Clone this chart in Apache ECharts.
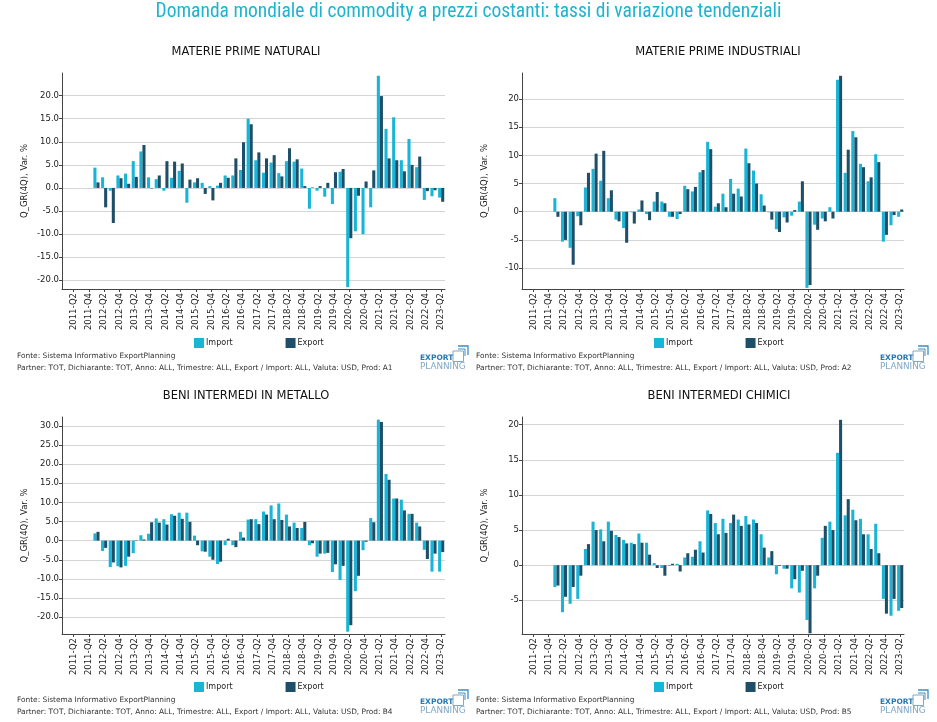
<!DOCTYPE html>
<html>
<head>
<meta charset="utf-8">
<script src="https://cdn.jsdelivr.net/npm/echarts@6/dist/echarts.min.js"></script>
<style>
html,body{margin:0;padding:0;background:#fff;}
#chart{width:937px;height:722px;}
</style>
</head>
<body>
<div id="chart"></div>
<script>
const categories = ['2011-Q1','2011-Q2','2011-Q3','2011-Q4','2012-Q1','2012-Q2','2012-Q3','2012-Q4',
'2013-Q1','2013-Q2','2013-Q3','2013-Q4','2014-Q1','2014-Q2','2014-Q3','2014-Q4',
'2015-Q1','2015-Q2','2015-Q3','2015-Q4','2016-Q1','2016-Q2','2016-Q3','2016-Q4',
'2017-Q1','2017-Q2','2017-Q3','2017-Q4','2018-Q1','2018-Q2','2018-Q3','2018-Q4',
'2019-Q1','2019-Q2','2019-Q3','2019-Q4','2020-Q1','2020-Q2','2020-Q3','2020-Q4',
'2021-Q1','2021-Q2','2021-Q3','2021-Q4','2022-Q1','2022-Q2','2022-Q3','2022-Q4',
'2023-Q1','2023-Q2'];

const seriesNames = ['Import','Export'];
const panelTitles = ['MATERIE PRIME NATURALI','MATERIE PRIME INDUSTRIALI','BENI INTERMEDI IN METALLO','BENI INTERMEDI CHIMICI'];
const prodCodes = ['A1','A2','B4','B5'];

const naturaliImport = [null,null,null,null,
 4.4,2.3,-0.6,2.7,3.1,5.8,7.9,2.3,1.9,-0.6,2.2,3.7,-3.2,1.2,1.1,0.4,0.5,2.7,2.7,3.9,
 15.0,6.0,3.3,5.5,3.2,5.8,5.7,4.2,-4.5,-0.6,-1.9,-3.5,3.5,-21.5,-9.4,-10.0,-4.2,24.3,
 12.8,15.3,6.0,10.6,4.5,-2.6,-1.8,-2.1];
const naturaliExport = [null,null,null,null,
 1.2,-4.2,-7.6,2.1,0.9,2.4,9.3,-0.1,2.7,5.8,5.7,5.3,1.8,2.1,-1.3,-2.7,1.1,2.2,6.4,9.9,
 13.8,7.7,6.4,7.1,2.5,8.6,6.2,0.4,0.1,0.4,1.1,3.4,4.1,-10.9,-1.7,1.4,3.8,19.9,
 6.4,6.0,3.6,5.0,6.8,-0.7,-0.5,-3.0];

const industrialiImport = [null,null,null,null,
 2.4,-5.3,-6.4,-0.8,4.3,7.6,5.5,2.4,-1.4,-2.9,-0.1,0.4,-0.4,1.8,1.8,-0.9,-1.3,4.6,3.6,7.0,
 12.4,0.9,3.2,5.8,4.1,11.2,7.3,3.1,-0.1,-3.1,-1.0,-0.7,1.8,-13.5,-2.3,-1.2,0.8,23.4,
 6.9,14.3,8.5,5.4,10.2,-5.3,-2.4,-0.9];
const industrialiExport = [null,null,null,null,
 -0.9,-5.0,-9.4,-2.4,6.9,10.3,10.8,3.8,-1.7,-5.5,-2.1,2.0,-1.5,3.5,1.5,-0.9,-0.4,4.0,4.4,7.4,
 11.1,1.5,0.8,3.2,2.7,8.6,5.0,1.1,-1.4,-3.6,-1.9,0.3,5.4,-13.0,-3.2,-1.7,-1.2,24.1,
 11.0,13.2,7.9,6.1,8.8,-4.1,-0.6,0.4];

const metalloImport = [null,null,null,null,
 1.9,-2.7,-6.9,-6.7,-6.6,-3.3,1.4,1.8,5.8,5.6,6.9,7.3,7.3,1.3,-2.8,-4.2,-6.1,-1.2,-1.2,2.3,
 5.5,5.6,7.6,9.2,9.7,6.8,4.7,3.3,-1.2,-4.2,-3.4,-8.2,-10.3,-23.8,-13.2,-2.5,5.9,31.6,
 17.4,11.0,10.7,7.0,4.7,-2.4,-8.1,-8.1];
const metalloExport = [null,null,null,null,
 2.3,-1.9,-5.7,-7.0,-4.2,-0.1,0.3,4.8,4.7,4.2,6.5,5.7,4.9,-1.2,-2.9,-5.0,-5.5,0.5,-1.7,0.8,
 5.6,4.3,6.8,5.6,5.4,3.7,3.3,4.9,-0.7,-3.4,-3.2,-6.2,-6.6,-22.1,-9.2,-0.3,4.8,31.0,
 15.9,11.0,7.9,7.0,3.7,-4.8,-3.4,-3.0];

const chimiciImport = [null,null,null,null,
 -3.1,-6.7,-5.5,-4.8,2.3,6.2,5.1,6.2,4.3,3.6,3.2,4.5,3.2,0.3,-0.4,-0.1,0.2,1.1,1.2,3.4,
 7.8,6.0,6.6,6.0,6.5,7.0,6.5,4.4,1.1,-1.3,-0.5,-3.3,-3.9,-7.8,-3.3,3.9,6.2,16.0,
 7.1,7.9,6.6,4.4,5.9,-4.8,-7.2,-6.5];
const chimiciExport = [null,null,null,null,
 -2.9,-4.5,-3.1,-1.5,3.0,5.0,3.4,4.9,4.0,3.1,3.0,3.2,1.5,-0.4,-1.5,0.2,-0.9,1.7,2.2,1.8,
 7.3,4.4,4.6,7.2,5.6,5.8,6.0,2.5,2.0,-0.1,-0.5,-2.0,-0.8,-9.7,-1.5,5.6,5.0,20.7,
 9.4,6.4,4.4,2.3,1.7,-6.9,-4.8,-6.1];

const panelData = [
  [naturaliImport, naturaliExport],
  [industrialiImport, industrialiExport],
  [metalloImport, metalloExport],
  [chimiciImport, chimiciExport]
];

// layout / style (not data)
const COL_IMP = '#19b5d6', COL_EXP = '#1f4f68';
const FONT = "'DejaVu Sans', sans-serif";
const grids = [
  {left:62, top:73, width:383, height:216},
  {left:522, top:73, width:382, height:216},
  {left:62, top:417, width:383, height:217},
  {left:522, top:417, width:382, height:217}
];
const yRanges = [[-21.9,24.9],[-13.7,24.6],[-24.4,32.3],[-9.8,21.1]];
const yDecimals = [1,0,1,0];
const offsets = [[0,0],[460,0],[0,344],[460,344]];

const option = {
  animation:false,
  backgroundColor:'#fff',
  grid: grids.map(g => Object.assign({containLabel:false}, g)),
  xAxis: grids.map((g,i) => ({
    type:'category', gridIndex:i, data:categories,
    boundaryGap:true,
    axisLine:{onZero:false, lineStyle:{color:'#444', width:1}},
    axisTick:{show:true, length:3, alignWithLabel:true, interval:(idx)=>idx%2===1, lineStyle:{color:'#444'}},
    axisLabel:{interval:(idx)=>idx%2===1, rotate:90, fontSize:8.5, fontFamily:FONT, color:'#222', margin:4},
    splitLine:{show:false}
  })),
  yAxis: grids.map((g,i) => ({
    type:'value', gridIndex:i,
    min:yRanges[i][0], max:yRanges[i][1],
    minInterval:5, maxInterval:5,
    name:'Q_GR(4Q), Var. %', nameLocation:'middle', nameGap:33,
    nameTextStyle:{fontSize:8.5, fontFamily:FONT, color:'#222'},
    axisLine:{show:true, lineStyle:{color:'#444', width:1}},
    axisTick:{show:true, length:3, lineStyle:{color:'#444'}},
    axisLabel:{fontSize:8.5, fontFamily:FONT, color:'#222', margin:3, showMinLabel:false, showMaxLabel:false,
      formatter:(v)=> (Math.abs(v % 5) < 1e-9 ? v.toFixed(yDecimals[i]) : '')},
    splitLine:{show:true, showMinLine:false, showMaxLine:false, lineStyle:{color:'#d4d4d4', width:1}}
  })),
  legend: offsets.map((o,i) => ({
    data:seriesNames, left:189+o[0], top:333+o[1], orient:'horizontal',
    itemWidth:10, itemHeight:10, itemGap:53, icon:'rect',
    textStyle:{fontSize:8, fontFamily:FONT, color:'#222', padding:[0,0,0,-3]}
  })),
  series: []
};

panelData.forEach((pair,i) => {
  pair.forEach((arr,j) => {
    option.series.push({
      name: seriesNames[j], type:'bar', xAxisIndex:i, yAxisIndex:i,
      data: arr, barGap:'0%', barCategoryGap:'20%',
      itemStyle:{color: j===0 ? COL_IMP : COL_EXP},
      emphasis:{disabled:true}
    });
  });
});

const graphics = [];
graphics.push({type:'text', left:'center', top:2, style:{
  text:'Domanda mondiale di commodity a prezzi costanti: tassi di variazione tendenziali',
  font:"normal 19.5px 'Liberation Sans Narrow','Roboto Condensed','Roboto',sans-serif", fill:'#1db3d1'}});
const titleCenters = [[246,52],[718,52],[246,396],[719,396]];
titleCenters.forEach((c,i) => {
  graphics.push({type:'text', x:c[0], y:c[1], style:{text:panelTitles[i], font:"11.5px 'DejaVu Sans'", fill:'#111', align:'center', verticalAlign:'middle'}});
});
offsets.forEach((o,i) => {
  const fx = 17 + o[0] - (o[0] ? 1 : 0), fy = o[1];
  graphics.push({type:'text', x:fx, y:356+fy, style:{text:'Fonte: Sistema Informativo ExportPlanning', font:"7.4px 'DejaVu Sans'", fill:'#333', verticalAlign:'middle'}});
  graphics.push({type:'text', x:fx, y:368+fy, style:{text:'Partner: TOT, Dichiarante: TOT, Anno: ALL, Trimestre: ALL, Export / Import: ALL, Valuta: USD, Prod: '+prodCodes[i], font:"7.4px 'DejaVu Sans'", fill:'#333', verticalAlign:'middle'}});
  // logo
  const lx = 420 + o[0], ly = o[1];
  graphics.push({type:'text', x:lx, y:358+ly, style:{text:'EXPORT', font:"bold 7.5px 'DejaVu Sans'", fill:'#2a78b0', verticalAlign:'middle'}});
  graphics.push({type:'text', x:lx, y:367+ly, style:{text:'PLANNING', font:"8.8px 'DejaVu Sans'", fill:'#7fa9c6', verticalAlign:'middle'}});
  graphics.push({type:'rect', shape:{x:lx+33, y:351+ly, width:10.5, height:10.5}, style:{fill:'none', stroke:'#7fa9c6', lineWidth:1}});
  graphics.push({type:'polyline', shape:{points:[[lx+38,346+ly],[lx+48,346+ly],[lx+48,355+ly]]}, style:{fill:'none', stroke:'#3b8fc0', lineWidth:1.3}});
  graphics.push({type:'polyline', shape:{points:[[lx+38,349+ly],[lx+45,349+ly],[lx+45,356+ly]]}, style:{fill:'none', stroke:'#3b8fc0', lineWidth:1}});
});
option.graphic = graphics;

const chart = echarts.init(document.getElementById('chart'), null, {renderer:'canvas'});
chart.setOption(option);
</script>
</body>
</html>
